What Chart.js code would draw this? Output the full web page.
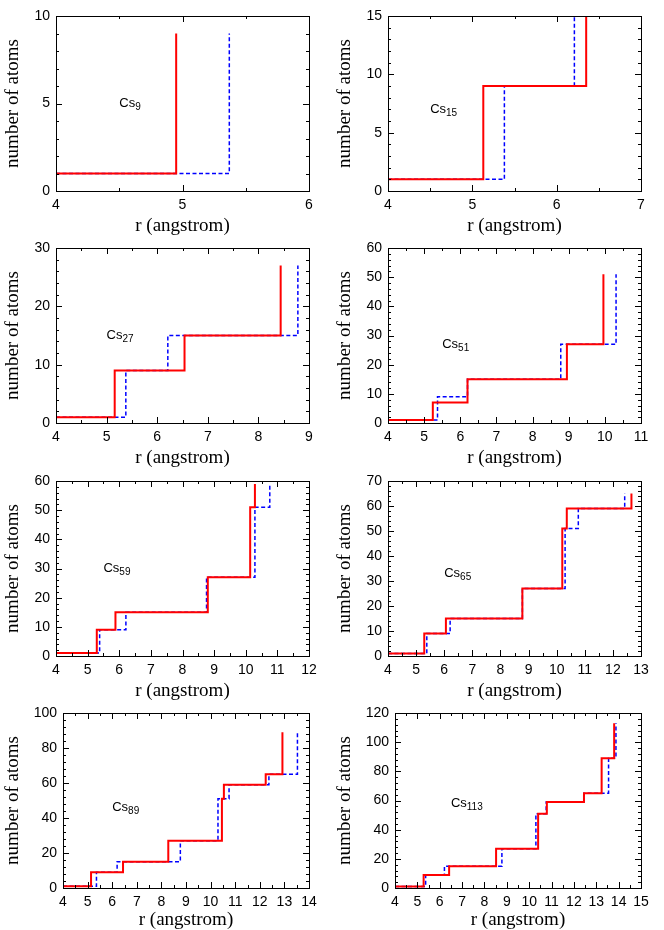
<!DOCTYPE html>
<html>
<head>
<meta charset="utf-8">
<script src="https://cdn.jsdelivr.net/npm/chart.js@4.4.1/dist/chart.umd.min.js"></script>
<style>
body{margin:0;background:#fff;width:664px;height:930px;position:relative;overflow:hidden}
canvas{position:absolute}
</style>
</head>
<body>
<script>
/* cluster sizes, axis ranges */
const clusterSizes=["9","15","27","51","59","65","89","113"];
const xMax=[6,7,9,11,12,13,14,15];
const yMax=[10,15,30,60,60,70,100,120];
const yStep=[5,5,10,10,10,10,20,20];
const yMinor=[1,1,2,2,2,2,4,4];

/* red solid curve: radius where the count jumps, and the count after it */
const redR=[
  [4,4.95],
  [4,5.13,6.35],
  [4,5.16,6.54,8.44],
  [4,5.24,6.2,8.95,9.96],
  [4,5.29,5.88,8.8,10.14,10.29],
  [4,5.29,6.06,8.78,10.2,10.36,12.66],
  [4,5.14,6.44,8.28,10.46,10.54,12.24,12.92],
  [4,5.28,6.42,8.52,10.4,10.79,12.45,13.24,13.8]
];
const redN=[
  [1,9],
  [1,9,15],
  [1,9,15,27],
  [1,7,15,27,51],
  [1,9,15,27,51,59],
  [1,9,15,27,51,59,65],
  [1,9,15,27,51,59,65,89],
  [1,9,15,27,51,59,65,89,113]
];

/* blue dashed curve */
const blueR=[
  [4,5.37],
  [4,5.38,6.21],
  [4,5.38,6.21,8.78],
  [4,5.37,6.2,8.78,10.31],
  [4,5.38,6.21,8.76,10.29,10.76],
  [4,5.38,6.21,8.78,10.3,10.77,12.42],
  [4,5.36,6.2,8.77,10.3,10.75,12.37,13.53],
  [4,5.37,6.21,8.78,10.3,10.76,12.45,13.55,13.88]
];
const blueN=[
  [1,9],
  [1,9,15],
  [1,9,15,27],
  [1,9,15,27,51],
  [1,9,15,27,51,59],
  [1,9,15,27,51,59,65],
  [1,9,15,27,51,59,65,89],
  [1,9,15,27,51,59,65,89,113]
];

/* where the "Cs_n" label sits, in data units */
const labelX=[4.5,4.5,5.0,5.5,5.5,6.0,6.0,6.5];
const labelY=[5,7,15,27,30,33,46,58];

/* ===== layout: plot box of every panel on the page ===== */
const plotBox=[
  [56,16,309,191],[388,16,641,191],
  [56,248,309,423],[388,248,641,423],
  [56,481,309,656],[388,481,641,656],
  [63,713,309,888],[395,713,641,888]
];
const xAxisH=[50,50,50,50,50,50,47,47];

const sansFont="'Liberation Sans', Arial, sans-serif";
const serifFont="'Liberation Serif', 'Times New Roman', serif";

/* gnuplot-like frame with inward ticks on all four sides */
const frameTicks={
  id:"frameTicks",
  afterDraw(chart,args,opts){
    const {ctx,chartArea:a,scales}=chart;
    const sx=scales.x, sy=scales.y;
    ctx.save();
    ctx.strokeStyle="#000";
    ctx.lineWidth=1;
    ctx.beginPath();
    for(let v=sx.min;v<=sx.max+1e-9;v+=0.5){
      const px=Math.round(sx.getPixelForValue(v))+0.5;
      const len=Math.abs(v-Math.round(v))<1e-9?6:3;
      ctx.moveTo(px,a.bottom);ctx.lineTo(px,a.bottom-len);
      ctx.moveTo(px,a.top);ctx.lineTo(px,a.top+len);
    }
    for(let v=sy.min;v<=sy.max+1e-9;v+=opts.minor){
      const py=Math.round(sy.getPixelForValue(v))+0.5;
      const len=Math.abs(v/opts.major-Math.round(v/opts.major))<1e-9?6:3;
      ctx.moveTo(a.left,py);ctx.lineTo(a.left+len,py);
      ctx.moveTo(a.right,py);ctx.lineTo(a.right-len,py);
    }
    ctx.stroke();
    ctx.strokeRect(Math.round(a.left)+0.5,Math.round(a.top)+0.5,Math.round(a.right-a.left),Math.round(a.bottom-a.top));

    // Cs_n label
    const lx=sx.getPixelForValue(opts.lx), ly=sy.getPixelForValue(opts.ly);
    ctx.fillStyle="#000";
    ctx.textBaseline="middle";
    ctx.textAlign="left";
    ctx.font="13px "+sansFont;
    ctx.fillText("Cs",lx,ly);
    const w=ctx.measureText("Cs").width;
    ctx.font="10px "+sansFont;
    ctx.fillText(opts.sub,lx+w,ly+4);
    ctx.restore();
  }
};

function makePanel(i){
  const col=i%2;
  const colX=col*332;
  const [l,t,r,b]=plotBox[i];
  const canvas=document.createElement("canvas");
  const W=332, H=(b-t)+16+xAxisH[i];
  canvas.width=W;canvas.height=H;
  canvas.style.left=colX+"px";
  canvas.style.top=(t-16)+"px";
  document.body.appendChild(canvas);

  const redPts=redR[i].map((x,j)=>({x:x,y:redN[i][j]}));
  const bluePts=blueR[i].map((x,j)=>({x:x,y:blueN[i][j]}));

  new Chart(canvas,{
    type:"line",
    data:{
      datasets:[
        {
          label:"red",
          data:redPts,
          borderColor:"#ff0000",
          borderWidth:2,
          stepped:true,
          pointRadius:0,
          fill:false
        },
        {
          label:"blue",
          data:bluePts,
          borderColor:"#0000ff",
          borderWidth:1.5,
          borderDash:[4,2.5],
          stepped:true,
          pointRadius:0,
          fill:false
        }
      ]
    },
    options:{
      responsive:false,
      animation:false,
      devicePixelRatio:1,
      layout:{padding:{left:0,top:16,right:W-(r-colX),bottom:0}},
      plugins:{
        legend:{display:false},
        tooltip:{enabled:false},
        frameTicks:{minor:yMinor[i],major:yStep[i],lx:labelX[i],ly:labelY[i],sub:clusterSizes[i]}
      },
      scales:{
        x:{
          type:"linear",
          min:4,max:xMax[i],
          grid:{display:false,drawTicks:false},
          border:{display:false},
          ticks:{stepSize:1,color:"#000",padding:6,maxRotation:0,font:{family:sansFont,size:14}},
          title:{display:true,text:"r (angstrom)",color:"#000",padding:{top:0,bottom:4},font:{family:serifFont,size:19}},
          afterFit(s){s.height=xAxisH[i];}
        },
        y:{
          type:"linear",
          min:0,max:yMax[i],
          grid:{display:false,drawTicks:false},
          border:{display:false},
          ticks:{stepSize:yStep[i],color:"#000",padding:6,font:{family:sansFont,size:14}},
          title:{display:true,text:"number of atoms",color:"#000",padding:{top:2,bottom:0},font:{family:serifFont,size:19}},
          afterFit(s){s.width=l-colX;}
        }
      }
    },
    plugins:[frameTicks]
  });
}

for(let i=0;i<8;i++) makePanel(i);
</script>
</body>
</html>
